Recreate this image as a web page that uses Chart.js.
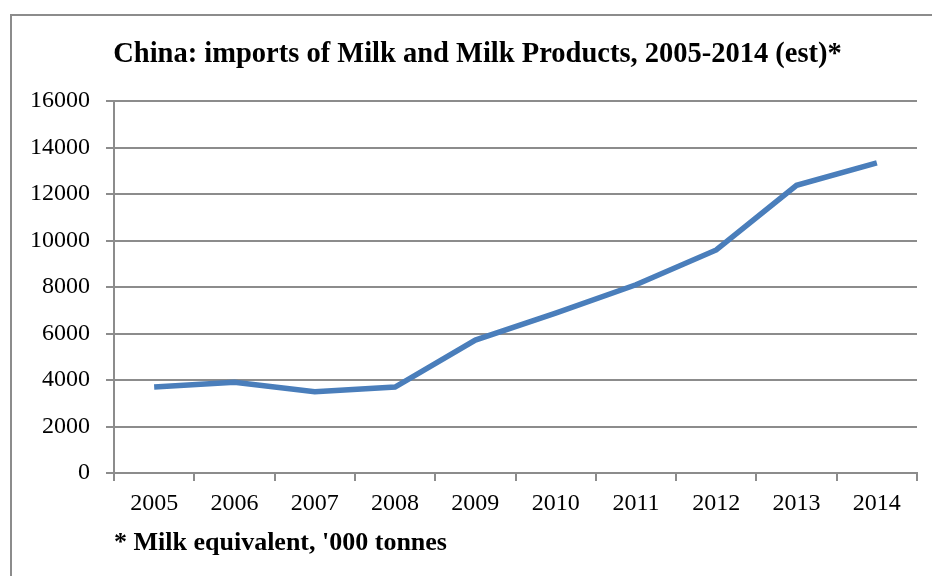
<!DOCTYPE html>
<html>
<head>
<meta charset="utf-8">
<script src="https://cdn.jsdelivr.net/npm/chart.js@4"></script>
<style>
  html, body { margin: 0; padding: 0; background: #fff; overflow: hidden; }
  #frame {
    position: absolute; left: 10px; top: 14px;
    width: 1000px; height: 700px;
    border: 2px solid #8c8c8c;
  }
  #wrap { position: absolute; left: 0; top: 0; width: 932px; height: 576px; }
</style>
</head>
<body>
<div id="frame"></div>
<div id="wrap"><canvas id="chart"></canvas></div>
<script>
// DATA
const years = ["2005", "2006", "2007", "2008", "2009", "2010", "2011", "2012", "2013", "2014"];
const imports = [3700, 3900, 3500, 3700, 5720, 6880, 8100, 9600, 12380, 13350];
const yTicks = [0, 2000, 4000, 6000, 8000, 10000, 12000, 14000, 16000];

const titleText = "China: imports of Milk and Milk Products, 2005-2014 (est)*";
const noteText = "* Milk equivalent, '000 tonnes";

const FONT = "'Liberation Serif', 'Times New Roman', serif";
const GRID = "#8c8c8c";

// the original frame is wider than the visible window, so its title sits right of centre
const shiftTitle = {
  id: "shiftTitle",
  afterLayout(chart) {
    const t = chart.titleBlock;
    if (t) { t.left += 12; t.right += 12; }
  }
};

new Chart(document.getElementById("chart"), {
  type: "line",
  data: {
    labels: years,
    datasets: [{
      data: imports,
      borderColor: "#4a7ebb",
      borderWidth: 5.5,
      pointRadius: 0,
      tension: 0,
      fill: false
    }]
  },
  options: {
    responsive: true,
    maintainAspectRatio: false,
    animation: false,
    layout: { padding: { left: 14, right: 15, top: 0, bottom: 17 } },
    plugins: {
      legend: { display: false },
      tooltip: { enabled: false },
      title: {
        display: true,
        text: titleText,
        color: "#000",
        font: { family: FONT, size: 28.5, weight: "bold" },
        padding: { top: 38, bottom: 29 }
      }
    },
    scales: {
      x: {
        offset: true,
        grid: {
          offset: true,
          drawOnChartArea: false,
          drawTicks: true,
          tickLength: 8,
          color: GRID,
          lineWidth: 2
        },
        border: { display: true, color: GRID, width: 2 },
        ticks: {
          color: "#000",
          font: { family: FONT, size: 24 },
          padding: 8,
          maxRotation: 0
        },
        title: {
          display: true,
          text: noteText,
          align: "start",
          color: "#000",
          font: { family: FONT, size: 26, weight: "bold" },
          padding: { top: 2, bottom: 0 }
        }
      },
      y: {
        min: 0,
        max: 16000,
        afterBuildTicks: axis => { axis.ticks = yTicks.map(v => ({ value: v })); },
        grid: {
          color: GRID,
          lineWidth: 2,
          drawTicks: true,
          tickLength: 8
        },
        border: { display: true, color: GRID, width: 2 },
        ticks: {
          color: "#000",
          font: { family: FONT, size: 24 },
          padding: 16,
          callback: v => String(v)
        }
      }
    }
  },
  plugins: [shiftTitle]
});
</script>
</body>
</html>
